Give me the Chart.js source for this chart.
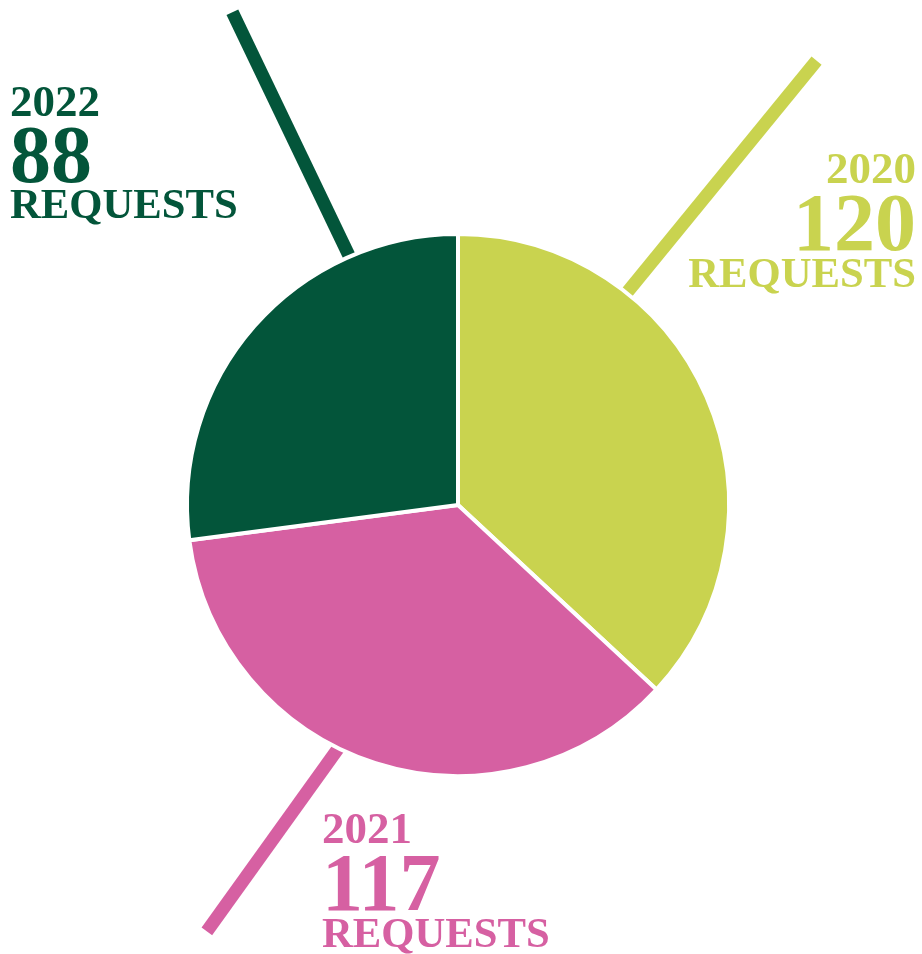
<!DOCTYPE html>
<html>
<head>
<meta charset="utf-8">
<script src="https://cdn.jsdelivr.net/npm/chart.js@4"></script>
<style>
  html, body { margin: 0; padding: 0; background: #ffffff; }
  #wrap { width: 922px; height: 954px; position: relative; }
</style>
</head>
<body>
<div id="wrap"><canvas id="requestsPie"></canvas></div>
<script>
// data
const years = ['2020', '2021', '2022'];
const requests = [120, 117, 88];
const unitLabel = 'REQUESTS';

const sliceColors = ['#C9D34F', '#D660A2', '#03553A'];

// leader lines: angle where the line leaves the pie, angle of its far end
// (degrees clockwise from 12 o'clock) and far end distance as a multiple of the radius
const leaderExit = [38.5, 206.2, 336.4];
const leaderEnd = [38.9, 210.5, 335.4];
const leaderLengths = [2.107, 1.826, 2.0];

// where each caption block sits, and how it is aligned
const captions = [
    { x: 916, align: 'right', base: [183, 250, 287] },
    { x: 322, align: 'left',  base: [843, 910, 947] },
    { x: 10,  align: 'left',  base: [116, 182, 218] }
];

const serif = '"Liberation Serif", "DejaVu Serif", serif';

function polar(arc, deg, dist) {
    const a = deg * Math.PI / 180;
    return { x: arc.x + Math.sin(a) * dist, y: arc.y - Math.cos(a) * dist };
}

const leaderLines = {
    id: 'leaderLines',
    beforeDatasetsDraw(chart) {
        const ctx = chart.ctx;
        const arcs = chart.getDatasetMeta(0).data;
        ctx.save();
        arcs.forEach(function(arc, i) {
            const r = arc.outerRadius;
            const p = polar(arc, leaderExit[i], r);
            const q = polar(arc, leaderEnd[i], r * leaderLengths[i]);
            // start a bit inside the pie so the join is hidden
            const s = { x: p.x + (p.x - q.x) * 0.1, y: p.y + (p.y - q.y) * 0.1 };
            ctx.beginPath();
            ctx.moveTo(s.x, s.y);
            ctx.lineTo(q.x, q.y);
            ctx.strokeStyle = sliceColors[i];
            ctx.lineWidth = 13;
            ctx.lineCap = 'butt';
            ctx.stroke();
        });
        ctx.restore();
    }
};

const captionText = {
    id: 'captionText',
    afterDraw(chart) {
        const ctx = chart.ctx;
        ctx.save();
        ctx.textBaseline = 'alphabetic';
        years.forEach(function(year, i) {
            const c = captions[i];
            ctx.fillStyle = sliceColors[i];
            ctx.textAlign = c.align;
            ctx.font = 'bold 45px ' + serif;
            ctx.fillText(year, c.x, c.base[0]);
            ctx.font = 'bold 82px ' + serif;
            ctx.fillText(String(requests[i]), c.x, c.base[1]);
            // fit REQUESTS to ~228px wide
            ctx.font = 'bold 44px ' + serif;
            const w = ctx.measureText(unitLabel).width;
            const size = 44 * 228 / w;
            ctx.font = 'bold ' + size.toFixed(1) + 'px ' + serif;
            ctx.fillText(unitLabel, c.x, c.base[2]);
        });
        ctx.restore();
    }
};

new Chart(document.getElementById('requestsPie'), {
    type: 'pie',
    data: {
        labels: years,
        datasets: [{
            data: requests,
            backgroundColor: sliceColors,
            borderColor: '#ffffff',
            borderWidth: 4
        }]
    },
    options: {
        responsive: true,
        maintainAspectRatio: false,
        animation: false,
        layout: {
            padding: { left: 185, right: 191, top: 232, bottom: 176 }
        },
        plugins: {
            legend: { display: false },
            tooltip: { enabled: false }
        }
    },
    plugins: [leaderLines, captionText]
});
</script>
</body>
</html>
